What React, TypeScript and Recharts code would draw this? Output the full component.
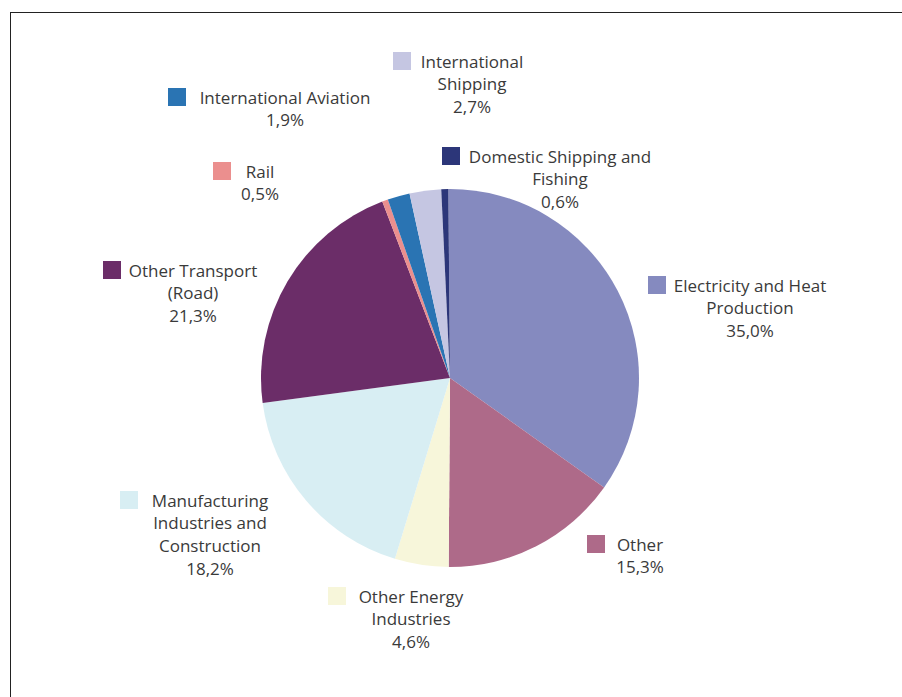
import { PieChart, Pie, Cell } from 'recharts';

const sectors = [
  'Electricity and Heat Production',
  'Other',
  'Other Energy Industries',
  'Manufacturing Industries and Construction',
  'Other Transport (Road)',
  'Rail',
  'International Aviation',
  'International Shipping',
  'Domestic Shipping and Fishing',
];
const shares = [35.0, 15.3, 4.6, 18.2, 21.3, 0.5, 1.9, 2.7, 0.6];
const labelLines = [
  ['Electricity and Heat', 'Production'],
  ['Other'],
  ['Other Energy', 'Industries'],
  ['Manufacturing', 'Industries and', 'Construction'],
  ['Other Transport', '(Road)'],
  ['Rail'],
  ['International Aviation'],
  ['International', 'Shipping'],
  ['Domestic Shipping and', 'Fishing'],
];

const colors = ['#858abf', '#ae6a89', '#f7f6da', '#d8eef3', '#6b2d68', '#eb8f8e', '#2a74b3', '#c5c6e2', '#2c3679'];

// where each label sits: marker left x, text block centre x, first line y
const labelPos = [
  { sx: 648, cx: 750, y: 285 },
  { sx: 587, cx: 640, y: 544 },
  { sx: 328, cx: 411, y: 596 },
  { sx: 120, cx: 210, y: 500 },
  { sx: 103, cx: 193, y: 270 },
  { sx: 213, cx: 260, y: 171 },
  { sx: 168, cx: 285, y: 97 },
  { sx: 393, cx: 472, y: 61 },
  { sx: 442, cx: 560, y: 156 },
];

const data = sectors.map((name, i) => ({ name, value: shares[i] }));

const fmt = (v: number) => v.toFixed(1).replace('.', ',') + '%';

const renderLabel = (props: any) => {
  const i = props.index;
  const p = labelPos[i];
  const lines = [...labelLines[i], fmt(shares[i])];
  return (
    <g key={'lbl' + i}>
      <rect x={p.sx} y={p.y - 9} width={18} height={18} fill={colors[i]} />
      {lines.map((t, j) => (
        <text
          key={j}
          x={p.cx}
          y={p.y + j * 22.7}
          textAnchor="middle"
          dominantBaseline="central"
          fontFamily="'Open Sans', sans-serif"
          fontSize={17}
          fill="#3a3a3a"
        >
          {t}
        </text>
      ))}
    </g>
  );
};

export default function App() {
  return (
    <div style={{ position: 'absolute', left: 0, top: 0, width: 902, height: 697, overflow: 'hidden', background: '#fff' }}>
      <div
        style={{
          position: 'absolute',
          left: 10,
          top: 12,
          width: 1000,
          height: 1000,
          borderLeft: '1.5px solid #222',
          borderTop: '1.5px solid #222',
        }}
      />
      <div style={{ position: 'absolute', left: 0, top: 0 }}>
        <PieChart width={902} height={697} margin={{ top: 0, right: 0, bottom: 0, left: 0 }}>
          <Pie
            data={data}
            dataKey="value"
            nameKey="name"
            cx={450}
            cy={378}
            outerRadius={189}
            startAngle={90.5}
            endAngle={-269.5}
            stroke="none"
            label={renderLabel}
            labelLine={false}
            isAnimationActive={false}
          >
            {data.map((d, i) => (
              <Cell key={d.name} fill={colors[i]} />
            ))}
          </Pie>
        </PieChart>
      </div>
    </div>
  );
}
